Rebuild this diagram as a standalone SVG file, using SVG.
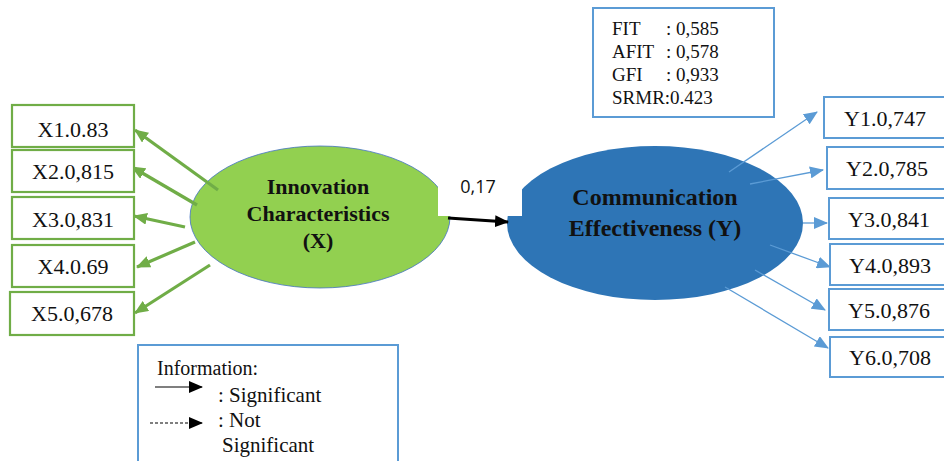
<svg xmlns="http://www.w3.org/2000/svg" width="944" height="461" viewBox="0 0 944 461">
<style>
.box-g{fill:#fff;stroke:#70AD47;stroke-width:2.2;}
.box-b{fill:#fff;stroke:#5B9BD5;stroke-width:2;}
.ga{stroke:#70AD47;stroke-width:3.2;fill:none;marker-end:url(#ag);}
.ba{stroke:#5B9BD5;stroke-width:1.3;fill:none;marker-end:url(#ab);}
.ind{font-family:'Liberation Serif',serif;font-size:22px;text-anchor:middle;fill:#111;}
.fit{font-family:'Liberation Serif',serif;font-size:19px;fill:#111;}
.lat{font-family:'Liberation Serif',serif;font-weight:bold;text-anchor:middle;fill:#111;}
.leg{font-family:'Liberation Serif',serif;fill:#111;}
</style>
<defs>
<marker id="ag" viewBox="0 0 14 12" refX="13" refY="6" markerWidth="14" markerHeight="12" markerUnits="userSpaceOnUse" orient="auto"><path d="M0,0 L14,6 L0,12 Z" fill="#70AD47"/></marker>
<marker id="ab" viewBox="0 0 14 12" refX="13" refY="6" markerWidth="14" markerHeight="12" markerUnits="userSpaceOnUse" orient="auto"><path d="M0,0 L14,6 L0,12 Z" fill="#5B9BD5"/></marker>
<marker id="ak" viewBox="0 0 14 12" refX="13" refY="6" markerWidth="14" markerHeight="12" markerUnits="userSpaceOnUse" orient="auto"><path d="M0,0 L14,6 L0,12 Z" fill="#000"/></marker>
</defs>
<rect width="944" height="461" fill="#fff"/>

<g id="X">
<ellipse cx="320" cy="217" rx="130" ry="71" fill="#92D050" stroke="#4472C4" stroke-width="0.8"/>
</g>
<g id="Y">
<ellipse cx="655" cy="223" rx="148" ry="77" fill="#2E75B6"/>
</g>
<rect x="438" y="140" width="84" height="76" fill="#fff"/>
<text class="lat" x="318" y="194" font-size="22">Innovation</text>
<text class="lat" x="318" y="221" font-size="22">Characteristics</text>
<text class="lat" x="318" y="248" font-size="22">(X)</text>
<text class="lat" x="655" y="205" font-size="24">Communication</text>
<text class="lat" x="655" y="236" font-size="24">Effectiveness (Y)</text>

<g id="connectors">
<line class="ga" x1="218" y1="190" x2="135" y2="130"/>
<line class="ga" x1="197" y1="205" x2="132" y2="167"/>
<line class="ga" x1="185" y1="227" x2="134" y2="216"/>
<line class="ga" x1="195" y1="242" x2="137" y2="267"/>
<line class="ga" x1="210" y1="265" x2="135" y2="313"/>
<line x1="448" y1="218" x2="508" y2="222" stroke="#000" stroke-width="3" marker-end="url(#ak)"/>
<line class="ba" x1="729" y1="172" x2="817" y2="112"/>
<line class="ba" x1="750" y1="184" x2="823" y2="170"/>
<line class="ba" x1="803" y1="223" x2="827" y2="223"/>
<line class="ba" x1="770" y1="245" x2="830" y2="267"/>
<line class="ba" x1="755" y1="270" x2="825" y2="310"/>
<line class="ba" x1="725" y1="287" x2="828" y2="348"/>
</g>
<text x="478" y="193" font-family="Open Sans, sans-serif" font-size="18" fill="#111" text-anchor="middle">0,17</text>

<g id="X1"><rect class="box-g" x="12" y="105" width="122" height="42"/><text class="ind" x="73" y="137">X1.0.83</text></g>
<g id="X2"><rect class="box-g" x="12" y="150" width="122" height="42"/><text class="ind" x="73" y="179">X2.0,815</text></g>
<g id="X3"><rect class="box-g" x="12" y="197" width="122" height="42"/><text class="ind" x="73" y="227">X3.0,831</text></g>
<g id="X4"><rect class="box-g" x="12" y="245" width="122" height="42"/><text class="ind" x="73" y="274">X4.0.69</text></g>
<g id="X5"><rect class="box-g" x="10" y="292" width="124" height="43"/><text class="ind" x="72" y="321">X5.0,678</text></g>

<g id="Y1"><rect class="box-b" x="824" y="97" width="124" height="41"/><text class="ind" x="885" y="126">Y1.0,747</text></g>
<g id="Y2"><rect class="box-b" x="827" y="147" width="124" height="42"/><text class="ind" x="887" y="176">Y2.0,785</text></g>
<g id="Y3"><rect class="box-b" x="829" y="198" width="124" height="41"/><text class="ind" x="889" y="227">Y3.0,841</text></g>
<g id="Y4"><rect class="box-b" x="830" y="244" width="124" height="41"/><text class="ind" x="890" y="273">Y4.0,893</text></g>
<g id="Y5"><rect class="box-b" x="829" y="289" width="124" height="41"/><text class="ind" x="889" y="318">Y5.0,876</text></g>
<g id="Y6"><rect class="box-b" x="830" y="337" width="124" height="40"/><text class="ind" x="890" y="365">Y6.0,708</text></g>

<g id="fit">
<rect class="box-b" x="593" y="8" width="181" height="109"/>
<text class="fit" x="612" y="35">FIT</text><text class="fit" x="666" y="35">: 0,585</text>
<text class="fit" x="612" y="58">AFIT</text><text class="fit" x="666" y="58">: 0,578</text>
<text class="fit" x="612" y="81">GFI</text><text class="fit" x="666" y="81">: 0,933</text>
<text class="fit" x="612" y="104">SRMR:0.423</text>
</g>

<g id="legend">
<rect class="box-b" x="138" y="345" width="260" height="130"/>
<text class="leg" x="157" y="375" font-size="20">Information:</text>
<line x1="155" y1="387" x2="202" y2="387" stroke="#000" stroke-width="1.2" marker-end="url(#ak)"/>
<text class="leg" x="218" y="402" font-size="21">: Significant</text>
<line x1="150" y1="423" x2="202" y2="423" stroke="#000" stroke-width="1.2" stroke-dasharray="3,2" marker-end="url(#ak)"/>
<text class="leg" x="218" y="427" font-size="21">: Not</text>
<text class="leg" x="222" y="452" font-size="21">Significant</text>
</g>
</svg>
